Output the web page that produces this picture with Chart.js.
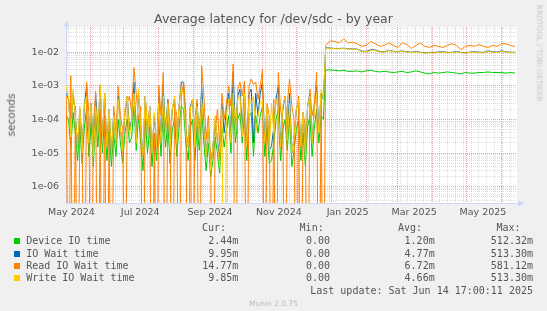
<!DOCTYPE html>
<html><head><meta charset="utf-8">
<script src="https://cdn.jsdelivr.net/npm/chart.js@4.4.1/dist/chart.umd.min.js"></script>
<style>
html,body{margin:0;padding:0;background:#F0F0F0;}
#wrap{position:relative;width:547px;height:311px;overflow:hidden;background:#F0F0F0;}
canvas{position:absolute;left:0;top:0;}
.t{position:absolute;white-space:pre;color:#555;font-family:"DejaVu Sans";line-height:1;}
.m{font-family:"DejaVu Sans Mono";font-size:10px;}
.sq{position:absolute;width:6px;height:6px;}
</style></head><body>
<div id="wrap"><canvas id="c" width="547" height="311"></canvas></div>
<script>
// x values: days since 2024-05-01
const days = [10,12,14,16,18,20,22,24,26,28,30,32,34,36,38,40,42,44,46,48,50,52,54,56,58,60,62,64,66,68,70,72,74,76,78,80,82,84,86,88,90,92,94,96,98,100,102,104,106,108,110,112,114,116,118,120,122,124,126,128,130,132,134,136,138,140,142,144,146,148,150,152,154,156,158,160,162,164,166,168,170,172,174,176,178,180,182,184,186,188,190,192,194,196,198,200,202,204,206,208,210,212,214,216,218,220,222,224,226,228,230,232,234,236,238,
240,244,248,252,256,260,264,268,272,276,280,284,288,292,296,300,304,308,312,316,320,324,328,332,336,340,344,348,352,356,360,364,368,372,376,380,384,388,392,396,400,404,408];

const deviceIO = [1.3e-4,1e-4,1.5e-5,1.6e-4,4e-5,6e-6,6e-5,5e-6,6e-5,2e-4,
 8e-6,8e-5,4e-6,1.3e-4,1.5e-5,2e-4,1e-5,1.3e-4,6e-6,5e-5,
 4e-6,4e-5,8e-6,1e-4,2e-5,5e-6,4e-5,1e-4,2e-5,3e-5,
 2.5e-4,1.2e-5,1.3e-4,2e-5,3e-6,1e-4,1e-5,6e-5,4e-6,4e-5,
 6e-6,1e-4,8e-6,2e-4,1.5e-5,8e-5,5e-6,5e-5,1e-4,8e-6,
 6e-5,2.5e-4,2e-4,2e-5,6e-6,6e-5,1e-4,6e-6,6e-5,1.2e-5,
 2e-4,2e-5,3e-6,2e-5,2e-6,6e-6,3e-5,1e-5,2.5e-6,6e-5,
 1.5e-5,5e-5,1.3e-4,1e-5,4e-4,2e-5,1e-4,1.6e-4,2e-5,1.6e-4,
 6e-6,1.3e-4,1.6e-4,8e-6,1.3e-4,4e-5,1.3e-4,2.5e-4,8e-6,6e-5,
 5e-6,6e-6,2e-5,1e-4,2e-4,6e-6,5e-5,1e-4,1.2e-5,1.3e-4,
 4e-6,1.2e-5,5e-5,1e-4,6e-6,4e-5,4e-6,6e-5,1.3e-4,8e-6,
 6e-5,2e-4,2e-5,1.3e-4,1e-4,
 0.0029,0.003,0.0029,0.0028,0.0029,0.0027,0.0027,0.0028,0.0026,0.0028,
 0.0029,0.0027,0.0026,0.0027,0.0026,0.0025,0.0026,0.0027,0.0025,0.0026,
 0.0028,0.0026,0.0024,0.0023,0.0025,0.0024,0.0025,0.0026,0.0025,0.0024,
 0.0023,0.0025,0.0024,0.0024,0.0025,0.0025,0.0026,0.0025,0.0025,0.0025,
 0.0024,0.0025,0.0024];

const ioWait = [6e-4,4e-4,4e-5,6e-4,1.3e-4,1.5e-5,2e-4,1.2e-5,2.5e-4,1e-3,
 2e-5,3e-4,1e-5,6e-4,4e-5,1e-3,3e-5,6e-4,1.5e-5,2e-4,
 1e-5,1.6e-4,2e-5,5e-4,5e-5,1.3e-5,1.6e-4,5e-4,5e-5,1e-4,
 1.3e-3,3e-5,6e-4,6e-5,8e-6,5e-4,3e-5,2.5e-4,1e-5,1.3e-4,
 1.5e-5,5e-4,2e-5,1e-3,4e-5,4e-4,1.2e-5,2e-4,4e-4,2e-5,
 2.5e-4,1.3e-3,1.3e-3,5e-5,1.5e-5,2.5e-4,4e-4,1.5e-5,3e-4,3e-5,
 1e-3,6e-5,8e-6,6e-5,4e-6,1.5e-5,1e-4,2.5e-5,6e-6,3e-4,
 4e-5,2e-4,6e-4,3e-5,2.5e-3,5e-5,5e-4,8e-4,5e-5,8e-4,
 1.5e-5,6e-4,8e-4,2e-5,6e-4,1.3e-4,6e-4,1.3e-3,2e-5,2.5e-4,
 1.2e-5,1.6e-5,6e-5,4e-4,1e-3,1.5e-5,2e-4,5e-4,3e-5,6e-4,
 1e-5,3e-5,2e-4,4e-4,1.5e-5,1.6e-4,1e-5,2.5e-4,6e-4,2e-5,
 2.5e-4,1e-3,5e-5,6e-4,4e-4,
 0.0138,0.0133,0.013,0.013,0.0132,0.0127,0.0126,0.0124,0.0108,0.0107,
 0.0118,0.0117,0.0106,0.0104,0.0114,0.0107,0.0104,0.011,0.0104,0.01,
 0.0107,0.01,0.0097,0.0099,0.0099,0.0102,0.0104,0.0099,0.01,0.0105,
 0.01,0.0097,0.0101,0.0104,0.0101,0.0099,0.011,0.0104,0.0101,0.0111,
 0.0103,0.01,0.01];

const readIO = [5e-4,0,2e-3,0,2.5e-4,0,1.3e-4,4e-5,0,1.3e-3,
 1.6e-4,0,6e-5,7e-4,0,2e-4,0,4e-4,0,8e-5,
 0,2.5e-4,3e-5,1e-3,1.3e-4,5e-5,0,3e-4,5e-4,1.6e-4,
 3.5e-3,6e-4,1e-4,2.5e-4,0,5e-4,6e-5,2e-4,0,4e-5,
 0,1e-3,1.3e-4,2.5e-3,0,4e-4,8e-5,0,3e-4,1.3e-4,
 0,5e-4,1.3e-3,1.6e-4,0,2.5e-4,0,1e-4,4e-4,0,
 4e-3,5e-4,2.5e-5,1.3e-4,6e-6,0,4e-5,2e-4,1.6e-5,6e-4,
 1e-4,3e-4,1e-3,2.5e-4,4.5e-3,0,8e-4,1.3e-3,5e-4,1.4e-3,
 0,1e-3,1.6e-3,1.1e-3,1.3e-3,4e-4,1e-3,3e-3,0,3e-4,
 1.3e-4,0,4e-4,0,2.5e-3,2e-4,8e-5,0,3e-4,1.6e-3,
 2.5e-4,1e-4,0,5e-4,0,1.6e-4,6e-5,0,8e-4,1.3e-4,
 3e-4,2.5e-3,0,4e-4,0,
 0.016,0.022,0.021,0.019,0.025,0.019,0.02,0.018,0.015,0.016,
 0.021,0.018,0.015,0.016,0.019,0.016,0.014,0.019,0.017,0.013,
 0.016,0.019,0.015,0.014,0.016,0.015,0.014,0.016,0.018,0.016,
 0.012,0.015,0.016,0.015,0.017,0.015,0.014,0.016,0.015,0.018,
 0.018,0.016,0.0148];

const writeIO = [1e-3,4e-4,3e-5,8e-4,1.3e-4,1.5e-5,2.5e-4,1e-5,3e-4,5e-4,
 2e-5,3e-4,8e-6,2.5e-4,4e-5,1.1e-3,3e-5,6e-4,1.5e-5,2e-4,
 1e-5,1.3e-4,2e-5,4e-4,5e-5,1.2e-5,2e-4,5e-4,3e-5,1e-4,
 6e-4,2e-5,8e-4,5e-5,8e-6,5e-4,3e-5,2.5e-4,1e-5,1.6e-4,
 1.5e-5,3e-4,2e-5,5e-4,4e-5,3e-4,1.2e-5,2e-4,5e-4,2e-5,
 2.5e-4,1e-3,5e-4,4e-5,1.5e-5,2e-4,4e-4,1.5e-5,2.5e-4,3e-5,
 4e-4,5e-5,8e-6,6e-5,3e-6,1.5e-5,1.3e-4,2e-5,4e-6,2e-4,
 0,1.6e-4,4e-4,2e-5,6e-4,5e-5,4e-4,5e-4,3e-5,6e-4,
 1.5e-5,4e-4,3e-4,5e-4,4e-5,1.3e-4,3e-4,4e-4,2e-5,2.5e-4,
 1.2e-5,3e-4,4e-5,4e-4,2e-4,1.5e-5,2.5e-4,5e-4,2.5e-5,3e-4,
 1e-5,3e-5,2e-4,4e-4,1.5e-5,1.6e-4,8e-6,2.5e-4,5e-4,2e-5,
 2e-4,6e-4,4e-5,8e-4,4e-4,
 0.0135,0.013,0.0128,0.0127,0.013,0.0125,0.0124,0.0122,0.0105,0.0104,
 0.0112,0.0115,0.0103,0.0102,0.0112,0.0105,0.0102,0.0108,0.0101,0.0098,
 0.0104,0.0098,0.0095,0.0097,0.0096,0.0099,0.0102,0.0096,0.0098,0.0102,
 0.0097,0.0095,0.0099,0.0101,0.0098,0.0096,0.0106,0.0101,0.0098,0.0108,
 0.0101,0.0097,0.0099];

const seriesNames = ['Device IO time','IO Wait time','Read IO Wait time','Write IO Wait time'];
const seriesColors = ['#00CC00','#0066B3','#FF8000','#FFCC00'];
const curVals = ['2.44m','9.95m','14.77m','9.85m'];
const minVals = ['0.00','0.00','0.00','0.00'];
const avgVals = ['1.20m','4.77m','6.72m','4.66m'];
const maxVals = ['512.32m','513.30m','581.12m','513.30m'];

const monthStarts = [31,61,92,123,153,184,214,245,276,304,335,365,396];
const labelDays = [14.5,75.5,137.5,198.5,259.5,318.5,379.5];
const labelTexts = ['May 2024','Jul 2024','Sep 2024','Nov 2024','Jan 2025','Mar 2025','May 2025'];
const yDecades = [1e-6,1e-5,1e-4,1e-3,1e-2];
const yLabels = ['1e-06','1e-05','1e-04','1e-03','1e-02'];

const X_MIN = 9.71, X_MAX = 409.71;
const Y_MIN = 3.27e-7, Y_MAX = 0.0566;
const ZERO_PLOT = 1e-12; // log axis cannot show 0: it drops off the bottom, as in rrdtool
const MAJ = 'rgba(222,100,100,0.6)';
const MIN = 'rgba(185,185,185,0.5)';
const AXIS = '#CFD6F8';

const xType = {};
for (let d = 12; d <= X_MAX; d += 7) xType[d] = 'minor';
monthStarts.forEach(d => xType[d] = 'major');
const xLabelMap = {};
labelDays.forEach((d, i) => { xType[d] = 'label'; xLabelMap[d] = labelTexts[i]; });
const xTicks = Object.keys(xType).map(Number).filter(v => v >= X_MIN && v <= X_MAX).sort((a, b) => a - b);

const yTicks = [];
const yLabelMap = {};
yDecades.forEach((v, i) => yLabelMap[v] = yLabels[i]);
[1e-7].concat(yDecades).forEach(dec => {
  for (let m = 1; m <= 9; m++) {
    const v = m === 1 ? dec : +(m * dec).toPrecision(6);
    if (v >= Y_MIN && v <= Y_MAX) yTicks.push(v);
  }
});
const isDecade = v => Math.abs(Math.log10(v) - Math.round(Math.log10(v))) < 1e-6;

const mk = arr => days.map((d, i) => ({x: d, y: arr[i] > 0 ? arr[i] : ZERO_PLOT}));
const seriesData = [deviceIO, ioWait, readIO, writeIO];

const decor = {
  id: 'decor',
  beforeDraw(chart) {
    const {ctx, chartArea: a} = chart;
    ctx.save();
    ctx.fillStyle = '#FFFFFF';
    ctx.fillRect(a.left, a.top, a.right - a.left, a.bottom - a.top);
    ctx.restore();
  },
  afterDraw(chart) {
    const {ctx, chartArea: a} = chart;
    ctx.save();
    ctx.fillStyle = AXIS;
    const lx = Math.round(a.left);
    const by = Math.round(a.bottom);
    ctx.fillRect(lx, a.top - 2, 1, 2);
    ctx.beginPath();
    ctx.moveTo(lx + 0.5 - 3, a.top - 0.5);
    ctx.lineTo(lx + 0.5 + 3, a.top - 0.5);
    ctx.lineTo(lx + 0.5, a.top - 6.5);
    ctx.closePath(); ctx.fill();
    ctx.fillRect(a.right, by, 2, 1);
    ctx.beginPath();
    ctx.moveTo(a.right + 1, by + 0.5 - 3);
    ctx.lineTo(a.right + 1, by + 0.5 + 3);
    ctx.lineTo(a.right + 7, by + 0.5);
    ctx.closePath(); ctx.fill();
    ctx.restore();
  }
};

new Chart(document.getElementById('c'), {
  type: 'line',
  data: {
    datasets: seriesData.map((arr, i) => ({
      label: seriesNames[i],
      data: mk(arr),
      borderColor: seriesColors[i],
      backgroundColor: seriesColors[i],
      borderWidth: 1,
      pointRadius: 0,
      tension: 0,
      fill: false,
      order: 4 - i
    }))
  },
  options: {
    responsive: false,
    animation: false,
    devicePixelRatio: 1,
    events: [],
    layout: {padding: {left: 0, right: 30, top: 27, bottom: 86}},
    plugins: {legend: {display: false}, tooltip: {enabled: false}, title: {display: false}},
    scales: {
      x: {
        type: 'linear', min: X_MIN, max: X_MAX, bounds: 'data',
        afterBuildTicks: ax => { ax.ticks = xTicks.map(v => ({value: v})); },
        afterFit: ax => { ax.height = 22; },
        ticks: {
          autoSkip: false, maxRotation: 0, minRotation: 0, padding: 4,
          color: '#555', font: {family: 'DejaVu Sans', size: 9.5},
          callback: v => (xLabelMap[v] !== undefined ? xLabelMap[v] : '')
        },
        grid: {
          color: c => { const t = c.tick ? xType[c.tick.value] : 'minor'; return t === 'major' ? MAJ : t === 'label' ? 'rgba(0,0,0,0)' : MIN; },
          lineWidth: 1, drawTicks: false, tickLength: 0
        },
        border: {color: AXIS, width: 1, dash: [1, 1]}
      },
      y: {
        type: 'logarithmic', min: Y_MIN, max: Y_MAX, bounds: 'data',
        afterBuildTicks: ax => { ax.ticks = yTicks.map(v => ({value: v})); },
        afterFit: ax => { ax.width = 66; },
        ticks: {
          autoSkip: false, padding: 7,
          color: '#555', font: {family: 'DejaVu Sans', size: 9.5},
          callback: v => (isDecade(v) ? (yLabelMap[v] || '') : '')
        },
        grid: {
          color: c => (c.tick && isDecade(c.tick.value) ? MAJ : MIN),
          lineWidth: 1, drawTicks: false, tickLength: 0
        },
        border: {color: AXIS, width: 1, dash: [1, 1]}
      }
    }
  },
  plugins: [decor]
});

const wrap = document.getElementById('wrap');
function addText(str, x, y, cls, align, style, rot) {
  const el = document.createElement('div');
  el.className = 't ' + (cls || '');
  el.textContent = str;
  el.style.left = x + 'px';
  el.style.top = y + 'px';
  const tx = align === 'r' ? '-100%' : align === 'c' ? '-50%' : '0';
  el.style.transform = `translate(${tx}, -50%)` + (rot ? ` rotate(${rot}deg)` : '');
  Object.assign(el.style, style || {});
  wrap.appendChild(el);
  return el;
}
addText('Average latency for /dev/sdc - by year', 273.5, 19, '', 'c', {fontSize: '12.5px'});
addText('seconds', 11, 115, '', 'c', {fontSize: '10.5px'}, -90);
addText('RRDTOOL / TOBI OETIKER', 538.5, 53, '', 'c', {fontSize: '7.5px', color: '#C8C8C8'}, 90);

const rowsY = [240.9, 253.5, 265.7, 277.9];
const hdrY = 227.7;
addText('Cur:', 226, hdrY, 'm', 'r');
addText('Min:', 323.7, hdrY, 'm', 'r');
addText('Avg:', 422, hdrY, 'm', 'r');
addText('Max:', 520.5, hdrY, 'm', 'r');
seriesNames.forEach((n, i) => {
  const y = rowsY[i];
  const sq = document.createElement('div');
  sq.className = 'sq';
  sq.style.left = '14px';
  sq.style.top = (y - 3) + 'px';
  sq.style.background = seriesColors[i];
  wrap.appendChild(sq);
  addText(n, 26.2, y, 'm', 'l');
  addText(curVals[i], 238.3, y, 'm', 'r');
  addText(minVals[i], 330, y, 'm', 'r');
  addText(avgVals[i], 434.7, y, 'm', 'r');
  addText(maxVals[i], 533, y, 'm', 'r');
});
addText('Last update: Sat Jun 14 17:00:11 2025', 533, 290.8, 'm', 'r');
addText('Munin 2.0.75', 273.5, 303.7, '', 'c', {fontSize: '7.5px', color: '#BBBBBB'});
</script>
</body></html>
